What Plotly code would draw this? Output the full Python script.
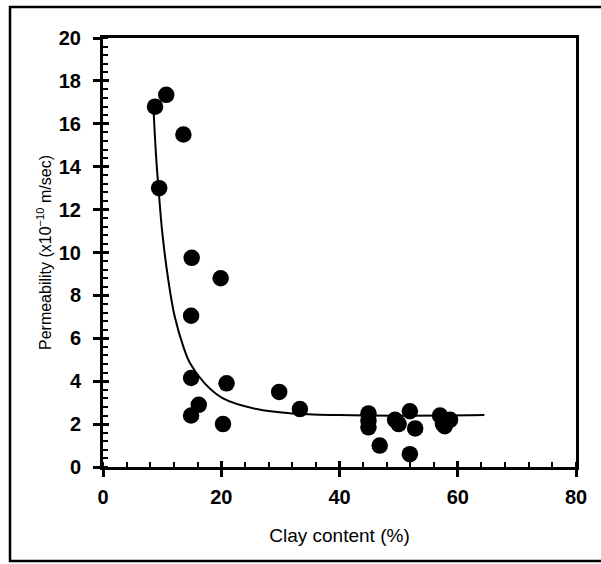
import plotly.graph_objects as go

# Data
clay = [8.8, 10.7, 13.6, 9.5, 15.0, 19.9, 14.9, 14.9, 20.9, 16.2, 14.9, 20.3,
        29.8, 33.3, 44.9, 44.9, 44.9, 46.8, 49.4, 50.0, 51.9, 52.8, 51.9,
        57.0, 57.5, 58.7, 57.8]
perm = [16.8, 17.35, 15.5, 13.0, 9.75, 8.8, 7.05, 4.15, 3.9, 2.9, 2.4, 2.0,
        3.5, 2.7, 2.5, 2.15, 1.85, 1.0, 2.2, 2.0, 2.6, 1.8, 0.6,
        2.4, 2.0, 2.2, 1.9]

# Fitted curve
fit_x = [8.5, 9.0, 9.5, 10.0, 11.0, 12.1, 13.6, 14.7, 17.2, 20.3, 26.0, 32.0, 40.0, 50.0, 64.5]
fit_y = [16.9, 14.4, 12.6, 11.0, 8.8, 7.05, 5.6, 4.85, 3.9, 3.2, 2.7, 2.5, 2.42, 2.39, 2.42]

x_ticks = [0, 20, 40, 60, 80]
y_ticks = [0, 2, 4, 6, 8, 10, 12, 14, 16, 18, 20]

W, H = 601, 564
L, R, T, B = 103, 25, 38, 97
pw, ph = W - L - R, H - T - B

def px_to_paper_x(px):
    return (px - L) / pw

def px_to_paper_y(py):
    return (H - B - py) / ph

tickfont = dict(family="Liberation Sans, Arial, sans-serif", size=20, color="black", weight="bold")
xtitlefont = dict(family="Liberation Sans, Arial, sans-serif", size=19, color="black")
ytitlefont = dict(family="Liberation Sans, Arial, sans-serif", size=16, color="black")

fig = go.Figure()
fig.add_trace(go.Scatter(x=fit_x, y=fit_y, mode="lines", line=dict(color="black", width=2, shape="spline"),
                         showlegend=False, hoverinfo="skip"))
fig.add_trace(go.Scatter(x=clay, y=perm, mode="markers",
                         marker=dict(color="black", size=16.5, line=dict(width=0)),
                         showlegend=False))
# invisible trace to carry overlay axes for inward major ticks
fig.add_trace(go.Scatter(x=[None], y=[None], xaxis="x2", yaxis="y2", showlegend=False))

fig.update_layout(
    width=W, height=H,
    margin=dict(l=L, r=R, t=T, b=B),
    paper_bgcolor="white", plot_bgcolor="white",
    xaxis=dict(range=[0, 80], tickvals=x_ticks, ticktext=[str(v) for v in x_ticks],
               showgrid=False, zeroline=False, showline=True, linecolor="black", linewidth=3,
               mirror=True, ticks="outside", ticklen=7, tickwidth=2.5, tickcolor="black",
               tickfont=tickfont, ticklabelstandoff=3,
               minor=dict(dtick=4, ticks="inside", ticklen=5, tickwidth=2, tickcolor="black"),
               title=dict(text="Clay content (%)", font=xtitlefont, standoff=22)),
    yaxis=dict(range=[0, 20], tickvals=y_ticks, ticktext=[str(v) for v in y_ticks],
               showgrid=False, zeroline=False, showline=True, linecolor="black", linewidth=3,
               mirror=True, ticks="outside", ticklen=7, tickwidth=2.5, tickcolor="black",
               tickfont=tickfont, ticklabelstandoff=8,
               minor=dict(dtick=0.4, ticks="inside", ticklen=5, tickwidth=2, tickcolor="black"),
               title=dict(text="Permeability (x10<sup>\u221210</sup> m/sec)", font=ytitlefont, standoff=4)),
    xaxis2=dict(range=[0, 80], overlaying="x", side="bottom", tickvals=x_ticks, showticklabels=False,
                ticks="inside", ticklen=6, tickwidth=2.5, tickcolor="black",
                showgrid=False, zeroline=False, showline=False),
    yaxis2=dict(range=[0, 20], overlaying="y", side="left", tickvals=y_ticks, showticklabels=False,
                ticks="inside", ticklen=6, tickwidth=2.5, tickcolor="black",
                showgrid=False, zeroline=False, showline=False),
    shapes=[dict(type="rect", xref="paper", yref="paper",
                 x0=px_to_paper_x(10), x1=px_to_paper_x(612),
                 y0=px_to_paper_y(561), y1=px_to_paper_y(7),
                 line=dict(color="black", width=2.5), fillcolor="rgba(0,0,0,0)", layer="below")],
)

fig.write_html("out.html", config={"displayModeBar": False},
               post_script="document.body.style.margin='0px';document.body.style.overflow='hidden';")
